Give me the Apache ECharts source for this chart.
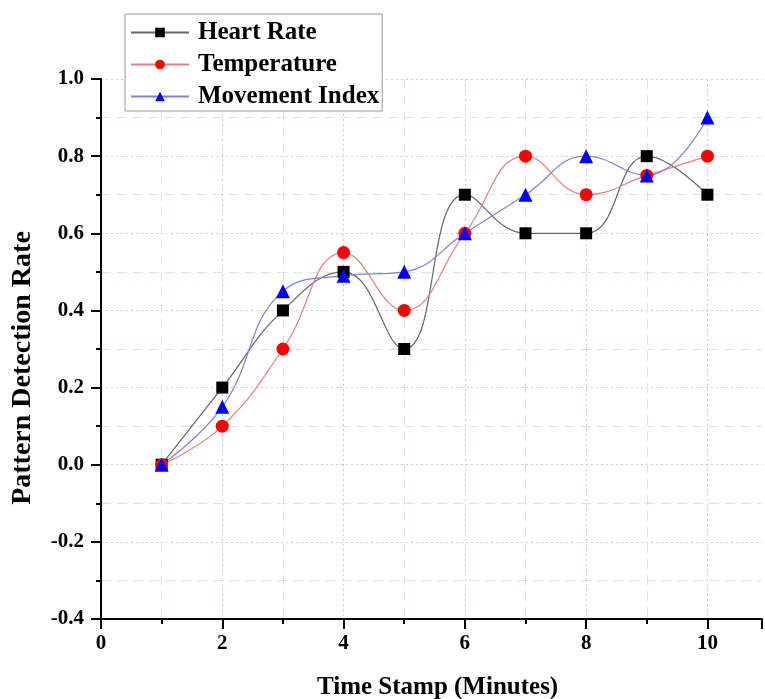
<!DOCTYPE html>
<html>
<head>
<meta charset="utf-8">
<script src="https://cdn.jsdelivr.net/npm/echarts@6/dist/echarts.min.js"></script>
<style>
  html, body { margin: 0; padding: 0; background: #fff; }
  #chart { width: 765px; height: 699px; }
</style>
</head>
<body>
<div id="chart"></div>
<script>
// values
const timeStamps = [1, 2, 3, 4, 5, 6, 7, 8, 9, 10];
const heartRate = [0, 0.2, 0.4, 0.5, 0.3, 0.7, 0.6, 0.6, 0.8, 0.7];
const temperature = [0, 0.1, 0.3, 0.55, 0.4, 0.6, 0.8, 0.7, 0.75, 0.8];
const movementIndex = [0, 0.15, 0.45, 0.49, 0.5, 0.6, 0.7, 0.8, 0.75, 0.9];

const serif = "'Liberation Serif', 'DejaVu Serif', serif";

const pairs = (ys) => timeStamps.map((x, i) => [x, ys[i]]);

const chart = echarts.init(document.getElementById("chart"));

const makeSeries = (name, data, symbol, size, markColor, lineColor) => ({
  name,
  type: "line",
  data: pairs(data),
  smooth: 0.45,
  symbol,
  symbolSize: size,
  itemStyle: { color: markColor },
  lineStyle: { color: lineColor, width: 1.2 },
});

const minorGrid = "#d4ecd4";
const xMax = 10.9; // axis runs a little past 10, off the right edge

const option = {
  backgroundColor: "#fff",
  animation: false,
  title: {
    text: "Time Stamp (Minutes)",
    left: 312,
    top: 670,
    textStyle: { fontFamily: serif, fontWeight: "bold", fontSize: 25, color: "#000" },
  },
  legend: {
    left: 125,
    top: 14,
    orient: "vertical",
    itemWidth: 58,
    itemHeight: 12,
    itemGap: 7,
    padding: [6, 3, 2, 5],
    borderColor: "#999",
    borderWidth: 1,
    backgroundColor: "#fff",
    textStyle: { fontFamily: serif, fontWeight: "bold", fontSize: 25, color: "#000", padding: [0, 0, 0, 4] },
  },
  grid: { left: 101, top: 79, bottom: 80, right: 0 },
  xAxis: [
    {
      // major ticks, labels and dotted grid
      type: "value",
      min: 0,
      max: xMax,
      interval: 2,
      axisLine: { onZero: false, lineStyle: { color: "#000", width: 2 } },
      axisTick: { show: true, length: 10, lineStyle: { color: "#000", width: 2 } },
      axisLabel: {
        fontFamily: serif, fontWeight: "bold", fontSize: 21, color: "#000", margin: 14,
        formatter: (v) => (v % 2 === 0 ? String(v) : ""),
      },
      splitLine: { show: true, showMaxLine: false, lineStyle: { color: "#e6b8d8", type: [2, 3], width: 1 } },
    },
    {
      // minor ticks at the odd minutes, dashed green grid
      type: "value",
      position: "bottom",
      min: 0,
      max: xMax,
      interval: 1,
      axisLine: { show: false, onZero: false },
      axisTick: { show: true, length: 5, lineStyle: { color: "#000", width: 2 } },
      axisLabel: { show: false },
      splitLine: {
        show: true, showMaxLine: false,
        lineStyle: { color: ["rgba(0,0,0,0)", minorGrid], type: [10, 6], width: 1 },
      },
    },
  ],
  yAxis: {
    type: "value",
    min: -0.4,
    max: 1.0,
    interval: 0.2,
    name: "Pattern Detection Rate",
    nameLocation: "middle",
    nameGap: 64,
    nameTextStyle: {
      fontFamily: serif, fontWeight: "bold", fontSize: 28, color: "#000",
      padding: [0, 38, 0, 0],
    },
    axisLine: { show: true, lineStyle: { color: "#000", width: 2 } },
    axisTick: { show: true, length: 10, lineStyle: { color: "#000", width: 2 } },
    minorTick: { show: true, splitNumber: 2, length: 5, lineStyle: { color: "#000", width: 2 } },
    axisLabel: {
      fontFamily: serif, fontWeight: "bold", fontSize: 21, color: "#000", margin: 17,
      formatter: (v) => v.toFixed(1),
    },
    splitLine: { show: true, lineStyle: { color: "#d8c4d0", type: [2, 3], width: 1 } },
    minorSplitLine: { show: true, lineStyle: { color: minorGrid, type: [10, 6], width: 1 } },
  },
  series: [
    makeSeries("Heart Rate", heartRate, "rect", 12, "#000", "#666"),
    makeSeries("Temperature", temperature, "circle", 13, "#f00", "#e88080"),
    makeSeries("Movement Index", movementIndex, "triangle", 14, "#00f", "#8080d8"),
  ],
};

chart.setOption(option);
</script>
</body>
</html>
